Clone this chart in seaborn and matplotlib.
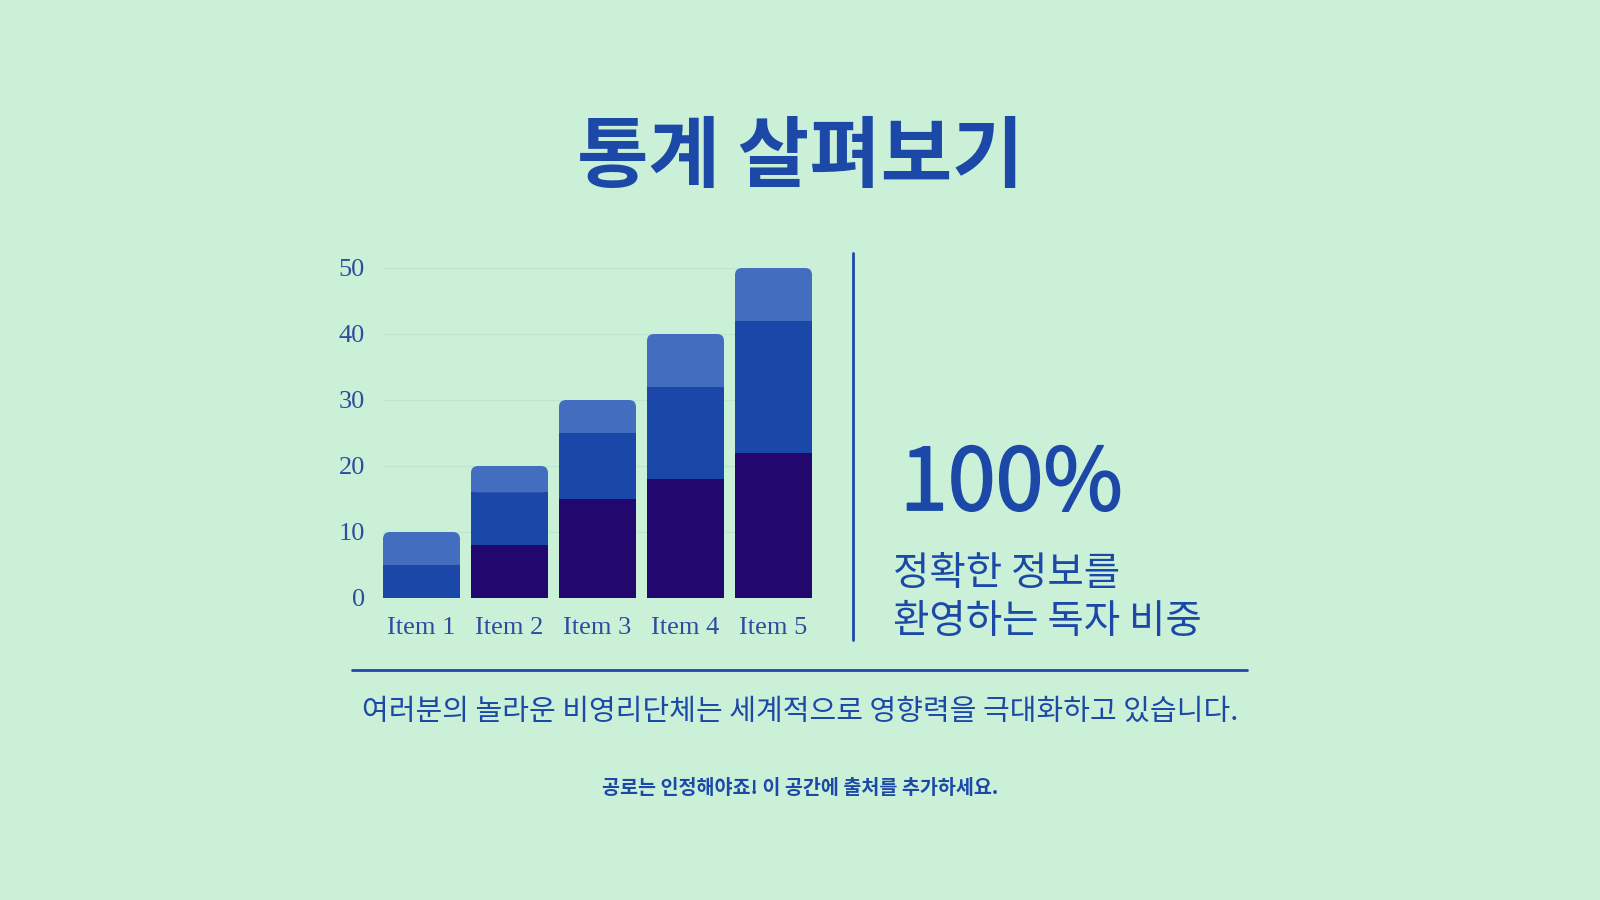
import matplotlib
matplotlib.use("Agg")
import matplotlib.pyplot as plt
import matplotlib.patheffects as pe
import seaborn as sns
from matplotlib.lines import Line2D
from matplotlib.patches import FancyBboxPatch, Rectangle

# data
items = ["Item 1", "Item 2", "Item 3", "Item 4", "Item 5"]
series_dark = [0, 8, 15, 18, 22]
series_mid = [5, 8, 10, 14, 20]
series_light = [5, 4, 5, 8, 8]
y_ticks = [0, 10, 20, 30, 40, 50]

title = "통계 살펴보기"
big_number = "100%"
side_lines = ["정확한 정보를", "환영하는 독자 비중"]
subtitle = "여러분의 놀라운 비영리단체는 세계적으로 영향력을 극대화하고 있습니다."
footer = "공로는 인정해야죠! 이 공간에 출처를 추가하세요."

BG = "#caf0d8"
BLUE = "#1c49a8"
DARK = "#22076e"
MID = "#1b47a8"
LIGHT = "#436ebf"
GRID = "#bde6cf"
TICK = "#2d4d9c"

sns.set_theme(style="white")
plt.rcParams["font.family"] = ["Noto Sans CJK KR", "DejaVu Sans"]

fig = plt.figure(figsize=(16, 9), dpi=100, facecolor=BG)

# chart axes, placed in pixel terms of the 1600x900 canvas
ax_l, ax_r, ax_t, ax_b = 383, 812, 268, 598
ax = fig.add_axes([ax_l / 1600, 1 - ax_b / 900, (ax_r - ax_l) / 1600, (ax_b - ax_t) / 900])
ax.set_facecolor(BG)

bar_w = 0.875
sns.barplot(x=items, y=series_dark, color=DARK, width=bar_w, saturation=1, ax=ax)
bottom3 = [a + b for a, b in zip(series_dark, series_mid)]
sns.barplot(x=items, y=series_mid, bottom=series_dark, color=MID, width=bar_w, saturation=1, ax=ax)
sns.barplot(x=items, y=series_light, bottom=bottom3, color=LIGHT, width=bar_w, saturation=1, ax=ax)

for p in ax.patches:
    p.set_linewidth(0)
    p.set_clip_on(False)

ax.set_xlim(-bar_w / 2, len(items) - 1 + bar_w / 2)
ax.set_ylim(0, 50)

# round the top corners of each stack (top segment = light series)
x_per_px = (ax.get_xlim()[1] - ax.get_xlim()[0]) / (ax_r - ax_l)
y_per_px = 50 / (ax_b - ax_t)
radius_px = 7
top_patches = list(ax.patches)[-len(items):]
for p in top_patches:
    x0, y0, w, h = p.get_x(), p.get_y(), p.get_width(), p.get_height()
    p.set_visible(False)
    ax.add_patch(FancyBboxPatch((x0, y0), w, h,
                                boxstyle=f"round,pad=0,rounding_size={radius_px * x_per_px}",
                                mutation_aspect=y_per_px / x_per_px,
                                facecolor=LIGHT, linewidth=0, clip_on=False))
    ax.add_patch(Rectangle((x0, y0), w, h / 2, facecolor=LIGHT, linewidth=0, clip_on=False))

ax.set_yticks(y_ticks)
ax.yaxis.grid(True, color=GRID, linewidth=1)
ax.set_axisbelow(True)
for s in ax.spines.values():
    s.set_visible(False)
ax.set_xlabel("")
ax.set_ylabel("")
ax.tick_params(axis="both", length=0, colors=TICK, labelsize=19)
ax.tick_params(axis="y", pad=13)
ax.tick_params(axis="x", pad=14)
for lbl in ax.get_xticklabels() + ax.get_yticklabels():
    lbl.set_fontfamily(["Liberation Serif", "DejaVu Serif"])
    lbl.set_color(TICK)

# separator lines
fig.add_artist(Line2D([853 / 1600, 853 / 1600], [1 - 253 / 900, 1 - 640 / 900],
                      color=BLUE, linewidth=2))
fig.add_artist(Line2D([352 / 1600, 1247 / 1600], [1 - 670 / 900, 1 - 670 / 900],
                      color=BLUE, linewidth=2))

# texts
fig.text(0.5, 1 - 158 / 900, title, ha="center", va="center",
         fontsize=56, fontweight="bold", color=BLUE)
fig.text(900 / 1600, 1 - 510 / 900, big_number, ha="left", va="baseline",
         fontsize=62, color=BLUE,
         path_effects=[pe.withStroke(linewidth=1.3, foreground=BLUE)])
fig.text(893 / 1600, 1 - 574 / 900, side_lines[0], ha="left", va="center",
         fontsize=28.5, color=BLUE)
fig.text(893 / 1600, 1 - 622 / 900, side_lines[1], ha="left", va="center",
         fontsize=28.5, color=BLUE)
fig.text(0.5, 1 - 712 / 900, subtitle, ha="center", va="center",
         fontsize=20.9, color=BLUE)
fig.text(0.5, 1 - 789 / 900, footer, ha="center", va="center",
         fontsize=14.1, fontweight="bold", color=BLUE)

fig.savefig("out.png", dpi=100, facecolor=BG)
